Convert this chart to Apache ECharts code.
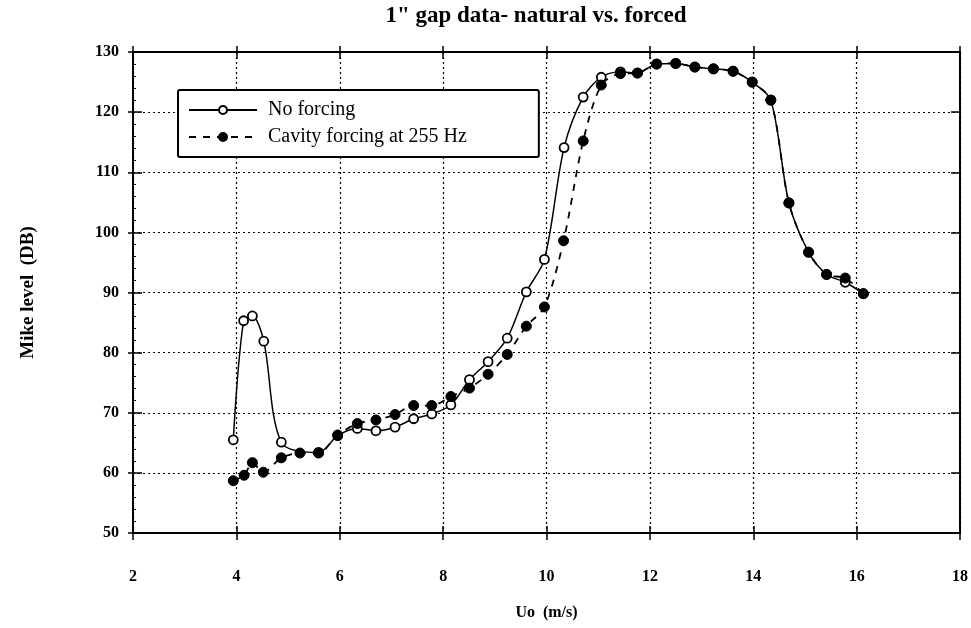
<!DOCTYPE html>
<html>
<head>
<meta charset="utf-8">
<script src="https://cdn.jsdelivr.net/npm/echarts@6/dist/echarts.min.js"></script>
<style>
html,body{margin:0;padding:0;background:#fff;}
#c{width:971px;height:628px;}
</style>
</head>
<body>
<div id="c"></div>
<script>
const noForcingX = [3.94, 4.14, 4.31, 4.53, 4.87, 5.59, 5.96, 6.34, 6.70, 7.07, 7.43, 7.78, 8.15, 8.51, 8.87, 9.24, 9.61, 9.96, 10.34, 10.71, 11.06, 11.43, 11.76, 12.13, 12.50, 12.87, 13.23, 13.61, 13.98, 14.34, 14.69, 15.07, 15.42, 15.78, 16.13];
const noForcingY = [65.5, 85.3, 86.1, 81.9, 65.1, 63.4, 66.2, 67.4, 67.0, 67.6, 69.0, 69.8, 71.3, 75.5, 78.5, 82.4, 90.1, 95.5, 114.1, 122.5, 125.8, 126.7, 126.5, 128.0, 128.1, 127.5, 127.2, 126.8, 125.0, 122.0, 104.9, 96.7, 93.0, 91.7, 89.8];
const forcedX = [3.94, 4.15, 4.31, 4.52, 4.87, 5.23, 5.59, 5.96, 6.34, 6.70, 7.07, 7.43, 7.78, 8.15, 8.51, 8.87, 9.24, 9.61, 9.96, 10.33, 10.71, 11.06, 11.43, 11.76, 12.13, 12.50, 12.87, 13.23, 13.61, 13.98, 14.34, 14.69, 15.07, 15.42, 15.78, 16.13];
const forcedY = [58.7, 59.6, 61.7, 60.1, 62.5, 63.3, 63.3, 66.3, 68.2, 68.8, 69.7, 71.2, 71.2, 72.7, 74.1, 76.4, 79.7, 84.4, 87.6, 98.6, 115.2, 124.5, 126.4, 126.5, 128.0, 128.1, 127.5, 127.2, 126.8, 125.0, 122.0, 104.9, 96.7, 93.0, 92.4, 89.8];
const seriesNames = ['No forcing', 'Cavity forcing at 255 Hz'];
const titleText = '1" gap data- natural vs. forced';
const xTitle = 'Uo  (m/s)';
const yTitle = 'Mike level  (DB)';

const zip = (xs, ys) => xs.map((x, i) => [x, ys[i]]);
const FONT = '"Liberation Serif", "DejaVu Serif", serif';

const chart = echarts.init(document.getElementById('c'));
const baseX = {
  type: 'value', min: 2, max: 18, interval: 2, gridIndex: 0
};
const baseY = {
  type: 'value', min: 50, max: 130, interval: 10, gridIndex: 0
};
chart.setOption({
  animation: false,
  backgroundColor: '#fff',
  title: {
    text: titleText, left: 531, top: 0, textAlign: 'center',
    textStyle: {fontFamily: FONT, fontWeight: 'bold', fontSize: 23, color: '#000'}
  },
  legend: {
    orient: 'vertical', left: 178, top: 90,
    data: seriesNames,
    itemWidth: 68, itemHeight: 10, itemGap: 7,
    padding: [10, 72, 10, 10],
    borderColor: '#000', borderWidth: 2, borderRadius: 2,
    backgroundColor: '#fff',
    textStyle: {fontFamily: FONT, fontSize: 20, color: '#000', padding: [0, 0, 0, 6]}
  },
  grid: {left: 133, right: 5, top: 52, bottom: 95, containLabel: false},
  xAxis: [
    Object.assign({}, baseX, {
      position: 'bottom',
      name: xTitle, nameLocation: 'middle', nameGap: 72,
      nameTextStyle: {fontFamily: FONT, fontWeight: 'bold', fontSize: 16, color: '#000'},
      axisLine: {lineStyle: {color: '#000', width: 2}},
      axisTick: {inside: true, length: 7, lineStyle: {color: '#000', width: 1.5}},
      axisLabel: {margin: 36, fontFamily: FONT, fontWeight: 'bold', fontSize: 16, color: '#000'},
      splitLine: {show: true, lineStyle: {color: '#000', type: [2, 3], width: 1.2}}
    }),
    Object.assign({}, baseX, {
      position: 'bottom',
      axisLine: {show: false},
      axisTick: {inside: false, length: 7, lineStyle: {color: '#000', width: 1.5}},
      axisLabel: {show: false}, splitLine: {show: false}
    }),
    Object.assign({}, baseX, {
      position: 'top',
      axisLine: {lineStyle: {color: '#000', width: 2}},
      axisTick: {inside: true, length: 7, lineStyle: {color: '#000', width: 1.5}},
      axisLabel: {show: false}, splitLine: {show: false}
    }),
    Object.assign({}, baseX, {
      position: 'top',
      axisLine: {show: false},
      axisTick: {inside: false, length: 6, lineStyle: {color: '#000', width: 1.5}},
      axisLabel: {show: false}, splitLine: {show: false}
    })
  ],
  yAxis: [
    Object.assign({}, baseY, {
      position: 'left',
      name: yTitle, nameLocation: 'middle', nameGap: 95, nameRotate: 90,
      nameTextStyle: {fontFamily: FONT, fontWeight: 'bold', fontSize: 19, color: '#000'},
      axisLine: {lineStyle: {color: '#000', width: 2}},
      axisTick: {inside: true, length: 9, lineStyle: {color: '#000', width: 1.5}},
      minorTick: {show: true, splitNumber: 5, length: 3, lineStyle: {color: '#000', width: 1}},
      axisLabel: {margin: 14, fontFamily: FONT, fontWeight: 'bold', fontSize: 16, color: '#000'},
      splitLine: {show: true, lineStyle: {color: '#000', type: [2, 3], width: 1.2}}
    }),
    Object.assign({}, baseY, {
      position: 'left',
      axisLine: {show: false},
      axisTick: {inside: false, length: 5, lineStyle: {color: '#000', width: 1.5}},
      axisLabel: {show: false}, splitLine: {show: false}
    }),
    Object.assign({}, baseY, {
      position: 'right',
      axisLine: {lineStyle: {color: '#000', width: 2}},
      axisTick: {inside: true, length: 9, lineStyle: {color: '#000', width: 1.5}},
      axisLabel: {show: false}, splitLine: {show: false}
    })
  ],
  series: [
    {
      name: seriesNames[0], type: 'line', xAxisIndex: 0, yAxisIndex: 0,
      data: zip(noForcingX, noForcingY),
      smooth: 0.3,
      symbol: 'circle', symbolSize: 9,
      lineStyle: {color: '#000', width: 1.5},
      itemStyle: {color: '#fff', borderColor: '#000', borderWidth: 1.8},
      z: 3
    },
    {
      name: seriesNames[1], type: 'line', xAxisIndex: 0, yAxisIndex: 0,
      data: zip(forcedX, forcedY),
      smooth: 0.3,
      symbol: 'circle', symbolSize: 10,
      lineStyle: {color: '#000', width: 1.8, type: [7, 7]},
      itemStyle: {color: '#000', borderColor: '#000', borderWidth: 1},
      z: 4
    }
  ]
});
</script>
</body>
</html>
